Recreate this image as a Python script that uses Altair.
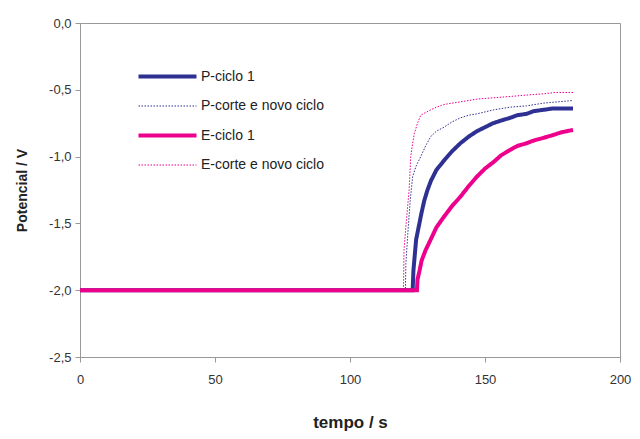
import altair as alt
import pandas as pd

series_names = ["P-ciclo 1", "P-corte e novo ciclo", "E-ciclo 1", "E-corte e novo ciclo"]
series_colors = ["#2E3192", "#2E3192", "#EC008C", "#EC008C"]

p1_t = [0, 123.2, 123.5, 124.5, 125.5, 126.5, 127.5, 128.7, 130, 132, 134.8, 137.8, 140.9, 144, 147, 150, 153, 156, 159.3, 162, 165.4, 168, 171.6, 175, 182.6]
p1_v = [-2.0, -2.0, -1.85, -1.62, -1.52, -1.42, -1.33, -1.25, -1.18, -1.10, -1.03, -0.96, -0.90, -0.85, -0.81, -0.78, -0.75, -0.73, -0.71, -0.69, -0.68, -0.66, -0.65, -0.64, -0.64]

p2_t = [0, 120.5, 120.7, 121.5, 122.3, 123.2, 124.5, 126.2, 128, 129.9, 132, 134.8, 137.8, 140.9, 144, 147, 153.2, 159.3, 165.4, 171.6, 177, 182.6]
p2_v = [-2.0, -2.0, -1.80, -1.55, -1.33, -1.15, -1.07, -1.0, -0.92, -0.85, -0.81, -0.78, -0.74, -0.71, -0.69, -0.68, -0.65, -0.63, -0.62, -0.60, -0.59, -0.58]

e1_t = [0, 124.8, 125, 125.8, 126.5, 128, 129.9, 132, 134.8, 137.8, 140.9, 144, 147, 150, 153.2, 156, 159.3, 162, 165.4, 168, 171.6, 175, 178, 182.6]
e1_v = [-2.0, -2.0, -1.92, -1.85, -1.78, -1.70, -1.62, -1.53, -1.45, -1.37, -1.30, -1.22, -1.15, -1.09, -1.04, -0.99, -0.95, -0.92, -0.90, -0.88, -0.86, -0.84, -0.82, -0.80]

e2_t = [0, 119.8, 120, 121, 121.9, 122.5, 123.2, 123.8, 125, 126.2, 128, 129.9, 132, 134.8, 137.8, 140.9, 147, 153, 159.3, 165, 171.6, 176, 182.6]
e2_v = [-2.0, -2.0, -1.70, -1.45, -1.25, -1.0, -0.90, -0.83, -0.75, -0.69, -0.67, -0.65, -0.63, -0.61, -0.60, -0.59, -0.57, -0.56, -0.55, -0.54, -0.53, -0.52, -0.52]

rows = []
# drawing order: dotted first, thick on top, E-ciclo 1 last
for name, ts, vs in [
    ("P-corte e novo ciclo", p2_t, p2_v),
    ("E-corte e novo ciclo", e2_t, e2_v),
    ("P-ciclo 1", p1_t, p1_v),
    ("E-ciclo 1", e1_t, e1_v),
]:
    for t, v in zip(ts, vs):
        rows.append({"serie": name, "tempo": t, "pot": v})
df = pd.DataFrame(rows)

leg = alt.Legend(
    title=None, orient="none", legendX=71, legendY=37,
    symbolSize=841, symbolType="M-2,0L2,0", labelFontSize=14,
    labelFont="Liberation Sans", labelColor="#222", rowPadding=6,
    labelOffset=17, padding=0,
)

chart = alt.Chart(df).mark_line(interpolate="linear").encode(
    x=alt.X("tempo:Q", scale=alt.Scale(domain=[0, 200]),
            axis=alt.Axis(values=[0, 50, 100, 150, 200], title="tempo / s",
                          titleFontSize=17, titlePadding=28, titleFont="Liberation Sans",
                          titleColor="#222", labelFontSize=13, labelFont="Liberation Sans",
                          labelColor="#333", grid=False, domainColor="#999", tickColor="#999",
                          tickSize=5, labelPadding=11, labelFlush=False)),
    y=alt.Y("pot:Q", scale=alt.Scale(domain=[-2.5, 0]),
            axis=alt.Axis(values=[0, -0.5, -1.0, -1.5, -2.0, -2.5], title="Potencial / V",
                          labelExpr="replace(replace(format(datum.value, '.1f'), '.', ','), '\u2212', '-')",
                          titleFontSize=14, titlePadding=19, titleFont="Liberation Sans",
                          titleColor="#222", labelFontSize=13, labelFont="Liberation Sans",
                          labelColor="#333", grid=False, domainColor="#999", tickColor="#999",
                          tickSize=5, labelPadding=4, labelFlush=False)),
    color=alt.Color("serie:N", scale=alt.Scale(domain=series_names, range=series_colors), legend=leg),
    strokeDash=alt.StrokeDash("serie:N", scale=alt.Scale(domain=series_names,
                              range=[[1, 0], [1.5, 1.5], [1, 0], [1.5, 1.5]]), legend=leg),
    strokeWidth=alt.StrokeWidth("serie:N", scale=alt.Scale(type="ordinal", domain=series_names,
                                range=[4, 1, 4, 1]), legend=leg),
    detail="serie:N",
).properties(
    width=540, height=334,
    autosize=alt.AutoSizeParams(type="none"),
    padding={"left": 72, "top": 15, "right": 12, "bottom": 74},
).configure_view(stroke="#999", strokeWidth=1).configure_axis(titleFontWeight="bold")

chart.save("out.html", embed_options={"renderer": "svg", "actions": False})
